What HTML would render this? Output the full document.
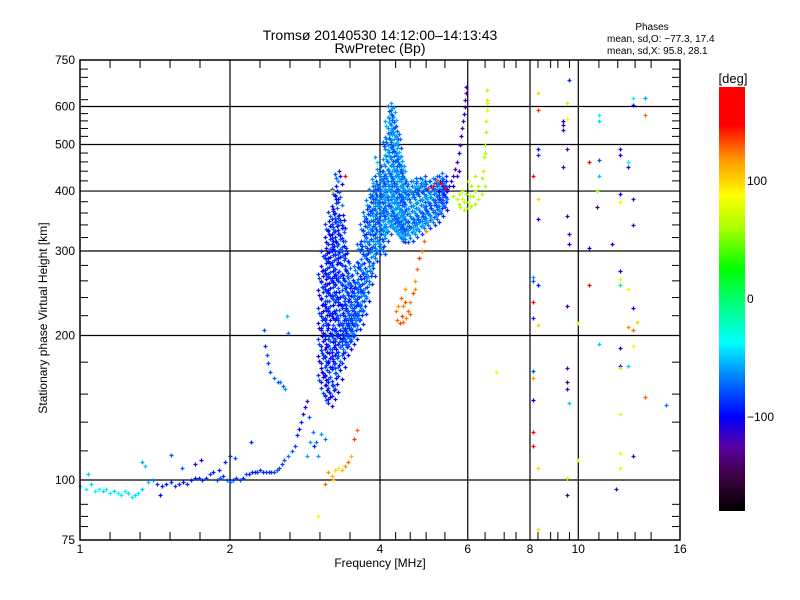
<!DOCTYPE html>
<html><head><meta charset="utf-8">
<style>
body{margin:0;background:#fff;}
svg{display:block;font-family:"Liberation Sans",sans-serif;}
</style></head>
<body>
<svg id="chart" width="800" height="600" viewBox="0 0 800 600" xmlns="http://www.w3.org/2000/svg">
<defs>
<linearGradient id="cbg" x1="0" y1="1" x2="0" y2="0">
<stop offset="0" stop-color="#000000"/>
<stop offset="0.08" stop-color="#3c0040"/>
<stop offset="0.15" stop-color="#5a00a0"/>
<stop offset="0.222" stop-color="#0000ff"/>
<stop offset="0.31" stop-color="#0078ff"/>
<stop offset="0.397" stop-color="#00ffff"/>
<stop offset="0.47" stop-color="#00ff96"/>
<stop offset="0.572" stop-color="#00ff00"/>
<stop offset="0.667" stop-color="#aaff00"/>
<stop offset="0.745" stop-color="#ffff00"/>
<stop offset="0.83" stop-color="#ff9600"/>
<stop offset="0.91" stop-color="#ff0000"/>
<stop offset="1" stop-color="#ff0000"/>
</linearGradient>
</defs>
<text x="380" y="40" font-size="14" text-anchor="middle">Tromsø 20140530 14:12:00–14:13:43</text>
<text x="380" y="53" font-size="14" text-anchor="middle">RwPretec (Bp)</text>
<text x="652" y="30" font-size="10" text-anchor="middle">Phases</text>
<text x="607" y="42" font-size="10">mean, sd,O: −77.3, 17.4</text>
<text x="607" y="54" font-size="10">mean, sd,X:  95.8, 28.1</text>
<g id="grid"></g>
<g id="ticks"></g>
<g id="points"></g>
<rect x="80" y="60" width="600" height="480" fill="none" stroke="#000" stroke-width="1.5"/>
<g id="labels" font-size="12"></g>
<text x="380" y="567" font-size="12" text-anchor="middle">Frequency [MHz]</text>
<text x="0" y="0" font-size="12" text-anchor="middle" transform="translate(47,318) rotate(-90)">Stationary phase Virtual Height [km]</text>
<rect x="719" y="87" width="26" height="424" fill="url(#cbg)"/>
<text x="733" y="83" font-size="13" text-anchor="middle">[deg]</text>
<g id="cblabels" font-size="12"></g>
</svg>
<script>
// axis data
const xMajor=[2,4,6,8,10];
const xLabelVals=[1,2,4,6,8,10,16];
const xMinor=[1.149,1.32,1.516,1.741,2.297,2.639,3.031,3.482,4.3,4.6,4.95,5.4,6.5,7.1,7.5,8.3,8.8,9.1,9.6,11,12,13,14];
const yMajor=[100,200,300,400,500,600];
const yLabelVals=[75,100,200,300,400,500,600,750];
const yMinor=[80,84,89,115,132,151,176,220,240,260,280,320,340,360,380,420,440,460,480,520,540,560,580,620,660,690,718];
const cbVals=[100,0,-100];
// scattered points
const ptFreq=[1.00,1.03,1.05,1.07,1.09,1.11,1.13,1.15,1.17,1.19,1.21,1.23,1.25,1.27,1.29,1.31,1.33,1.04,1.35,1.37,1.40,1.43,1.46,1.49,1.52,1.55,1.58,1.61,1.64,1.67,1.70,1.73,1.76,1.79,1.82,1.85,1.88,1.91,1.94,1.97,2.00,2.03,2.06,2.09,2.12,2.15,2.18,2.21,2.24,2.27,2.30,2.33,2.36,2.39,2.42,2.45,2.48,2.51,2.54,2.57,
1.33,1.52,1.70,1.75,1.9,1.95,2.0,2.05,1.6,1.45,2.2,
2.62,2.66,2.70,2.72,2.75,2.78,2.80,2.83,2.86,2.88,2.90,2.93,2.95,2.98,3.0,2.85,3.05,3.1,
2.34,2.35,2.37,2.38,2.41,2.45,2.50,2.55,2.58,2.52,2.60,2.62,
3.15,3.2,3.25,3.3,3.35,3.4,3.45,3.5,3.55,3.6,3.22,3.1,3.0,
4.30,4.32,4.38,4.45,4.52,4.55,4.6,4.65,4.7,4.75,4.8,4.85,4.9,4.95,4.4,4.5,4.35,4.45,4.6,4.42,4.5,4.7,
5.45,5.5,5.55,5.6,5.65,5.7,5.75,5.8,5.82,5.85,5.87,5.9,5.92,5.93,5.95,5.96,5.6,5.7,5.75,
5.0,5.1,5.2,5.3,5.4,5.25,5.35,
5.6,5.7,5.75,5.8,5.9,6.0,6.1,6.2,6.3,6.4,6.5,5.75,5.85,5.95,6.05,6.15,5.9,6.0,6.2,6.3,5.85,6.1,6.0,6.2,6.4,
6.45,6.48,6.5,6.52,6.53,6.55,6.56,6.57,6.5,6.55,
3.4,3.9,3.95,6.85,3.3,3.2,
9.6,8.3,9.5,8.3,9.3,9.5,9.3,9.3,12.9,13.6,12.9,13.6,11.0,11.0,8.3,9.5,8.3,12.1,12.1,10.5,11,12.6,9.3,12.6,8.1,11,10.9,12.1,12.9,8.3,12.1,10.9,8.3,9.5,12.9,9.6,9.6,10.5,11.7,12.1,8.1,8.1,8.3,10.5,12.1,12.1,12.6,8.1,9.5,12.9,8.1,8.3,10,13.1,12.6,12.9,11,12.1,12.9,9.5,8.1,12.1,12.1,12.6,8.1,9.5,9.5,13.6,15,8.1,9.6,12.1,8.1,8.1,12.1,12.9,10,8.3,12.1,9.5,11.9,9.5,8.3];
const ptHeight=[97,96,98,95,96,95,96,94,95,94,93,95,94,92,93,94,96,103,107,99,100,98,97,98,99,97,98,99,98,100,101,101,100,101,103,104,100,101,102,100,99,100,101,100,101,103,103,104,104,104,105,104,104,104,104,104,105,106,108,110,
109,113,108,110,105,109,112,111,106,93,120,
112,115,118,124,128,132,137,142,146,135,120,126,118,120,112,112,125,122,
205,190,182,175,168,163,160,157,155,160,220,202,
104,102,105,106,105,107,109,112,122,127,100,98,84,
225,215,212,213,218,225,235,245,260,275,290,300,315,330,240,235,230,230,222,220,250,250,
400,410,420,430,445,460,480,500,520,540,560,580,600,620,640,660,410,430,440,
405,410,420,415,405,400,410,
390,385,375,370,365,368,372,375,385,395,410,395,400,395,390,390,380,380,400,410,385,410,420,430,425,
440,470,500,530,560,590,620,650,480,610,
430,470,460,168,420,400,
680,640,610,590,560,565,548,535,625,625,605,575,575,560,490,490,475,490,475,460,465,460,448,448,430,430,400,395,385,385,380,370,350,355,340,325,310,305,310,272,265,260,255,255,262,255,250,235,230,228,218,210,212,213,208,205,192,188,190,171,169,173,171,173,163,160,155,149,143,147,145,137,126,118,114,112,110,106,106,101,96,93,79];
const ptPhase=[-40,-40,-45,-40,-40,-45,-40,-40,-45,-40,-40,-40,-45,-40,-45,-40,-50,-50,-50,-50,-70,-90,-95,-95,-90,-85,-90,-95,-90,-95,-95,-90,-95,-90,-85,-95,-85,-80,-90,-80,-75,-85,-90,-85,-90,-80,-90,-95,-95,-90,-90,-90,-85,-90,-90,-85,-80,-85,-85,-80,
-60,-80,-110,-100,-95,-90,-90,-80,-75,-100,-90,
-70,-80,-85,-90,-100,-95,-110,-100,-110,-80,-60,-70,-90,-70,-60,-60,-60,-70,
-80,-90,-80,-85,-80,-75,-80,-75,-60,-70,-50,-70,
120,110,100,95,110,120,130,110,140,130,100,130,90,
125,130,135,128,122,130,125,135,120,130,140,125,130,120,130,135,120,125,130,138,118,122,
-110,-115,-105,-110,-120,-110,-105,-115,-110,-120,-110,-105,-115,-110,-120,-110,-100,-110,-105,
140,150,130,150,160,-100,-90,
62,66,58,66,62,66,58,62,66,70,58,66,62,58,66,62,66,58,62,66,75,58,66,62,58,
66,62,66,58,66,70,62,66,62,75,
150,-60,-50,80,-60,100,
-90,100,70,140,-100,80,-110,-110,-40,-60,-100,130,-40,-45,-100,-120,-90,-110,-100,150,-80,-40,-110,-110,160,-50,60,-100,-110,100,80,-130,-100,-140,-110,-100,-100,-100,-100,-100,-60,-80,-100,150,80,0,80,150,-130,-100,-90,100,80,100,120,130,-50,-100,80,-110,-80,-100,70,-50,120,-140,-110,130,-70,-100,-50,80,150,150,80,-110,80,100,80,70,-110,-140,100];
// dense blob columns: frequency, phase, heights
const blobFreq=[3.05,3.10,3.15,3.20,3.25,3.30,3.35,3.40,3.45,3.50,3.55,3.60,3.65,3.70,3.75,3.80,3.85,3.90,3.95,4.00,
4.05,4.10,4.15,4.20,4.25,4.30,4.35,4.40,4.45,4.50,4.60,4.70,4.80,4.90,5.00,5.10,5.20,5.30,5.40];
const blobPhase=[-95,-95,-92,-92,-90,-88,-88,-85,-85,-82,-82,-80,-80,-78,-78,-75,-75,-72,-72,-72,
-70,-70,-66,-66,-70,-70,-66,-70,-70,-70,-70,-66,-70,-70,-72,-72,-75,-78,-82];
const blobHeights=[[160,175,190,205,220,240,260],[150,165,180,200,215,230,250,270,290],[145,160,175,190,210,225,245,265,285,310,330],[150,170,185,200,220,240,260,280,300,320,350],[155,175,195,215,235,255,275,300,330,360,390],[165,185,200,215,235,260,285,310,340,380,420],[175,195,210,230,255,280,300,320,340],[185,195,205,220,240,260,290],[190,200,210,225,245,270],[195,205,215,235,255],[200,210,225,245],[210,220,235,250,270],[215,230,250,275,300],[225,245,270,300,330],[240,260,290,320,350],[260,285,310,340,370],[270,300,330,360,390],[290,320,350,380,410],[300,330,360,390],[310,340,370,400,430],
[300,330,360,390,420],[320,350,380,410,450,490],[330,360,390,420,460,500,540],[340,370,400,430,470,510,550,580],[335,360,390,420,450,490,530,570],[330,350,380,410,440,480,520],[325,345,370,400,430,460,500],[320,340,365,390,420,450],[318,335,355,380,405,430],[318,330,350,375,400],[320,335,355,380,400],[325,340,360,385,405],[330,345,365,390,405],[335,350,370,395,410],[340,360,380,400],[345,365,385,405],[350,370,390,410],[360,380,400,415],[370,390,410]];

const NS='http://www.w3.org/2000/svg';
function fx(f){return 80+150*Math.log2(f);}
function fy(h){return 540-480*Math.log10(h/75);}
const stops=[[-180,0,0,0],[-150,60,0,64],[-117,90,0,160],[-100,0,0,255],[-70,0,120,255],[-37,0,255,255],[-10,0,255,150],[26,0,255,0],[60,170,255,0],[88,255,255,0],[120,255,150,0],[150,255,0,0],[180,255,0,0]];
function col(p){
  p=Math.max(-180,Math.min(180,p));
  for(let i=0;i<stops.length-1;i++){const a=stops[i],b=stops[i+1];
    if(p<=b[0]){const t=(p-a[0])/(b[0]-a[0]);
      return 'rgb('+[1,2,3].map(k=>Math.round(a[k]+(b[k]-a[k])*t)).join(',')+')';}}
  return 'rgb(255,0,0)';
}
function mk(tag,attrs,parent){const e=document.createElementNS(NS,tag);for(const k in attrs)e.setAttribute(k,attrs[k]);parent.appendChild(e);return e;}
const grid=document.getElementById('grid'),ticks=document.getElementById('ticks'),pts=document.getElementById('points'),lab=document.getElementById('labels'),cbl=document.getElementById('cblabels');
xMajor.forEach(f=>{const l=mk('line',{x1:fx(f),x2:fx(f),y1:60,y2:540,stroke:'#000','stroke-width':1.2},grid);

});
yMajor.forEach(h=>{const l=mk('line',{x1:80,x2:680,y1:fy(h),y2:fy(h),stroke:'#000','stroke-width':1.2},grid);

});
xMinor.forEach(f=>{const x=fx(f);
  const a=mk('line',{x1:x,x2:x,y1:540,y2:532,stroke:'#000'},ticks);
  
  
  const b=mk('line',{x1:x,x2:x,y1:60,y2:68,stroke:'#000'},ticks);
  
  });
yMinor.forEach(h=>{const y=fy(h);
  const a=mk('line',{x1:80,x2:88,y1:y,y2:y,stroke:'#000'},ticks);
  
  
  const b=mk('line',{x1:672,x2:680,y1:y,y2:y,stroke:'#000'},ticks);
  
  });
xLabelVals.forEach(f=>{const t=mk('text',{x:fx(f),y:553,'text-anchor':'middle'},lab);t.textContent=f;

});
yLabelVals.forEach(h=>{const t=mk('text',{x:75,y:fy(h)+4,'text-anchor':'end'},lab);t.textContent=h;

});
cbVals.forEach(v=>{const y=299-v*1.18;
  const t=mk('text',{x:747,y:y+4},cbl);t.textContent=(v<0?'−':'')+Math.abs(v);
  
  });
function plus(f,h,p){const x=Math.round(fx(f))+0.5,y=Math.round(fy(h))+0.5;
  if(x<80||x>680||y<60||y>540)return;
  const e=mk('path',{d:'M'+(x-2)+' '+y+'h4M'+x+' '+(y-2)+'v4',stroke:col(p),'stroke-width':1.3,fill:'none'},pts);
  
  }
// each blob sample is drawn as a small cluster of crosses to mimic point density
const jit=[[0,1,0],[0.03,1.025,10],[-0.03,1.012,-12],[0.05,0.985,15],[-0.05,1.035,-5],[0.015,1.05,8]];
blobFreq.forEach((f,i)=>{blobHeights[i].forEach((h,j)=>{
  jit.forEach(d=>plus(f+d[0],h*d[1],blobPhase[i]+d[2]*((j%2)?1:-1)));});});
ptFreq.forEach((f,i)=>plus(f,ptHeight[i],ptPhase[i]));
</script>
</body></html>
